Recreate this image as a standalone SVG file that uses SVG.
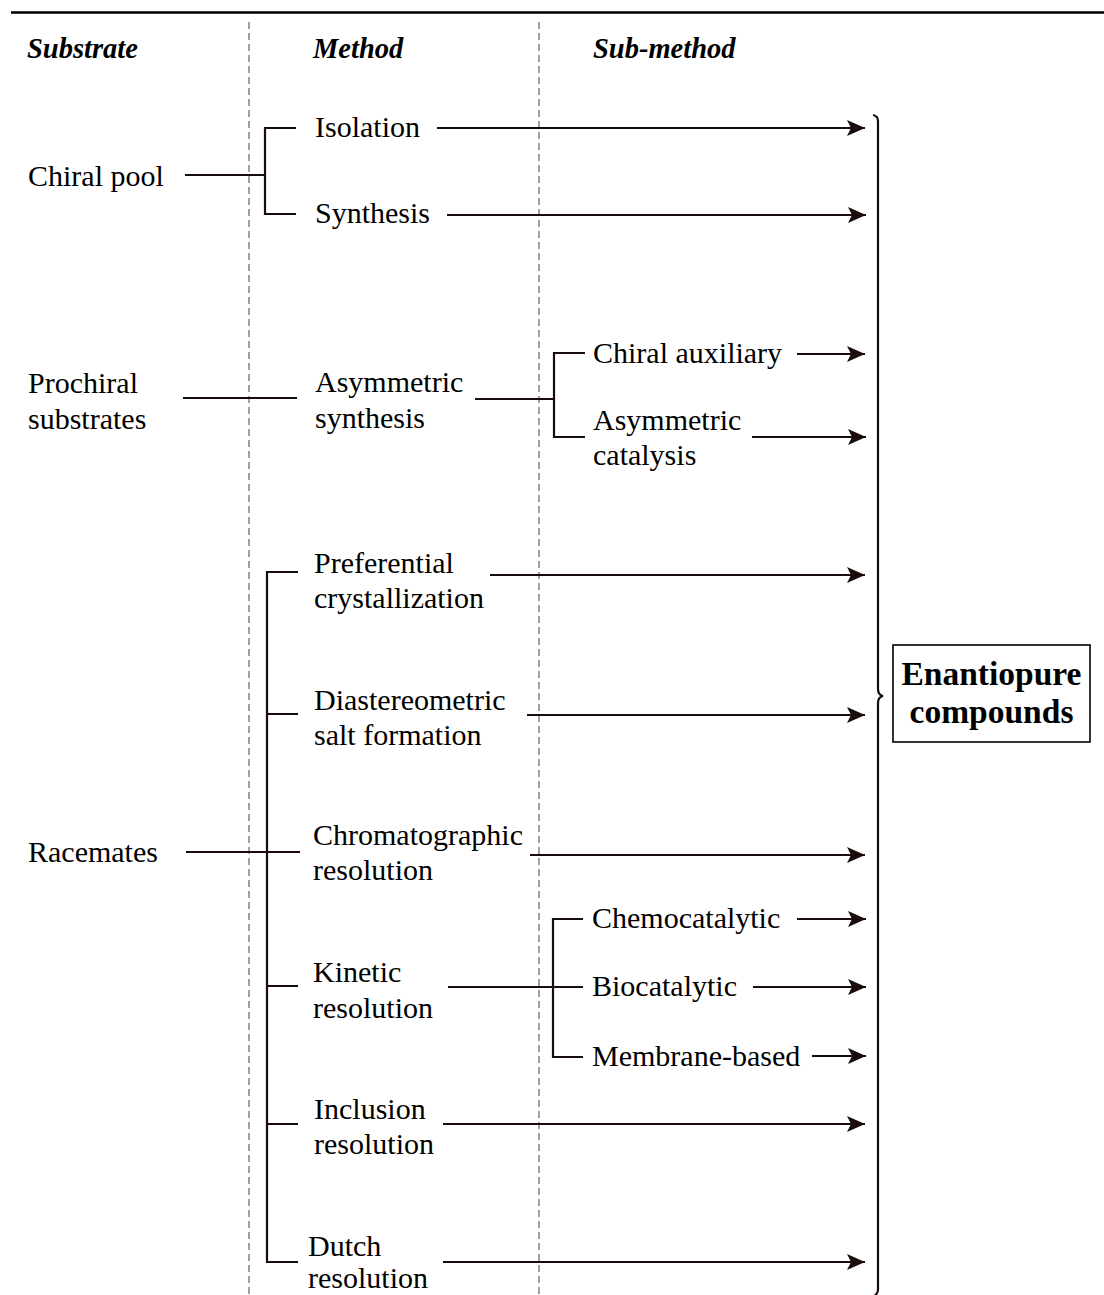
<svg xmlns="http://www.w3.org/2000/svg" width="1104" height="1295" viewBox="0 0 1104 1295">
  <style>
    text { font-family: "Liberation Serif", "Times New Roman", serif; font-size: 30px; fill: #000; }
    .hdr { font-weight: bold; font-style: italic; font-size: 28.5px; }
    .big { font-weight: bold; font-size: 33.5px; }
    .ln { stroke: #1a0c0c; stroke-width: 2.2; fill: none; }
    .arr { stroke: #1a0c0c; stroke-width: 2.2; fill: none; marker-end: url(#head); }
    .dash { stroke: #8a8a8a; stroke-width: 1.6; stroke-dasharray: 7 4; fill: none; }
  </style>
  <defs>
    <marker id="head" markerUnits="userSpaceOnUse" markerWidth="20" markerHeight="16" refX="18" refY="8" orient="auto">
      <path d="M0,0 L18,8 L0,16 L4,8 z" fill="#1a0c0c"/>
    </marker>
  </defs>
  <rect width="1104" height="1295" fill="#fff"/>

  <!-- top rule and column separators -->
  <g id="frame">
    <line x1="11" y1="12.5" x2="1104" y2="12.5" stroke="#000" stroke-width="2.5"/>
    <line class="dash" x1="249" y1="22" x2="249" y2="1295"/>
    <line class="dash" x1="539" y1="22" x2="539" y2="1295"/>
  </g>

  <!-- column headings -->
  <g id="headings">
    <text class="hdr" x="27" y="58">Substrate</text>
    <text class="hdr" x="313" y="58">Method</text>
    <text class="hdr" x="593" y="58">Sub-method</text>
  </g>

  <!-- connectors -->
  <g id="connectors">
    <!-- chiral pool -->
    <path class="ln" d="M185,175 H265 M296,128 H265 V214 H296"/>
    <line class="arr" x1="437" y1="128" x2="865" y2="128"/>
    <line class="arr" x1="447" y1="215" x2="866" y2="215"/>
    <!-- prochiral substrates -->
    <path class="ln" d="M183,398 H297"/>
    <path class="ln" d="M475,399 H554 M585,353 H554 V437 H585"/>
    <line class="arr" x1="797" y1="354" x2="865" y2="354"/>
    <line class="arr" x1="752" y1="437" x2="866" y2="437"/>
    <!-- racemates -->
    <path class="ln" d="M186,852 H300"/>
    <path class="ln" d="M298,572 H267 V1262 H298 M267,714 H298 M267,986 H298 M267,1124 H298"/>
    <line class="arr" x1="490" y1="575" x2="865" y2="575"/>
    <line class="arr" x1="527" y1="715" x2="865" y2="715"/>
    <line class="arr" x1="530" y1="855" x2="865" y2="855"/>
    <path class="ln" d="M448,987 H583 M583,919 H553 V1057 H583"/>
    <line class="arr" x1="797" y1="919" x2="866" y2="919"/>
    <line class="arr" x1="753" y1="987" x2="866" y2="987"/>
    <line class="arr" x1="812" y1="1056" x2="866" y2="1056"/>
    <line class="arr" x1="443" y1="1124" x2="865" y2="1124"/>
    <line class="arr" x1="443" y1="1262" x2="865" y2="1262"/>
    <!-- closing brace -->
    <path class="ln" stroke-width="2.6" d="M873,115 Q878,116 878,121 V689 Q878,695 883,696 Q878,697 878,703 V1289 Q878,1295 872,1297"/>
  </g>

  <!-- substrate column -->
  <g id="chiral-pool"><text x="28" y="186">Chiral pool</text></g>
  <g id="prochiral"><text x="28" y="393">Prochiral</text><text x="28" y="429">substrates</text></g>
  <g id="racemates"><text x="28" y="862">Racemates</text></g>

  <!-- method column -->
  <g id="isolation"><text x="315" y="137">Isolation</text></g>
  <g id="synthesis"><text x="315" y="223">Synthesis</text></g>
  <g id="asymmetric-synthesis"><text x="315" y="392">Asymmetric</text><text x="315" y="428">synthesis</text></g>
  <g id="preferential"><text x="314" y="573">Preferential</text><text x="314" y="608">crystallization</text></g>
  <g id="diastereometric"><text x="314" y="710">Diastereometric</text><text x="314" y="745">salt formation</text></g>
  <g id="chromatographic"><text x="313" y="845">Chromatographic</text><text x="313" y="880">resolution</text></g>
  <g id="kinetic"><text x="313" y="982">Kinetic</text><text x="313" y="1018">resolution</text></g>
  <g id="inclusion"><text x="314" y="1119">Inclusion</text><text x="314" y="1154">resolution</text></g>
  <g id="dutch"><text x="308" y="1256">Dutch</text><text x="308" y="1288">resolution</text></g>

  <!-- sub-method column -->
  <g id="chiral-auxiliary"><text x="593" y="363">Chiral auxiliary</text></g>
  <g id="asymmetric-catalysis"><text x="593" y="430">Asymmetric</text><text x="593" y="465">catalysis</text></g>
  <g id="chemocatalytic"><text x="592" y="928">Chemocatalytic</text></g>
  <g id="biocatalytic"><text x="592" y="996">Biocatalytic</text></g>
  <g id="membrane"><text x="592" y="1066">Membrane-based</text></g>

  <!-- result -->
  <g id="enantiopure">
    <rect x="893" y="645" width="197" height="97" fill="#fff" stroke="#000" stroke-width="1.6"/>
    <text class="big" x="991.5" y="685" text-anchor="middle">Enantiopure</text>
    <text class="big" x="991.5" y="723" text-anchor="middle">compounds</text>
  </g>
</svg>
